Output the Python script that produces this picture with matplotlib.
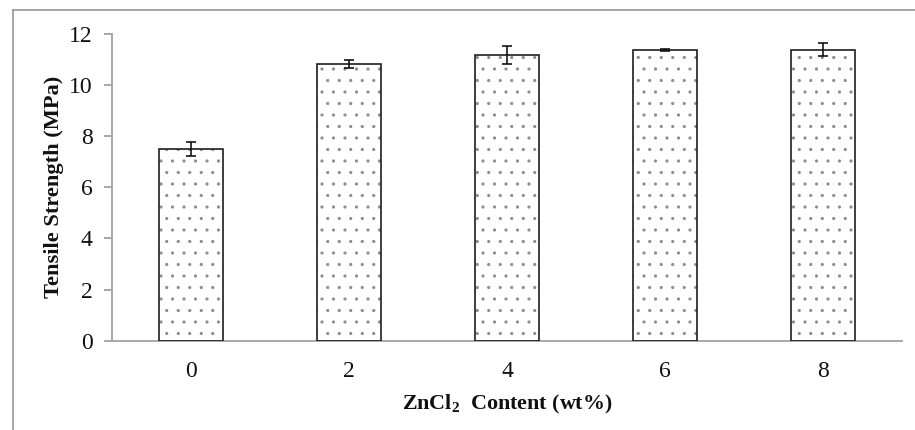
import matplotlib
matplotlib.use("Agg")
import matplotlib.pyplot as plt
from matplotlib.lines import Line2D

# Tensile strength vs. ZnCl2 loading
zncl2_content = ["0", "2", "4", "6", "8"]
tensile_strength = [7.5, 10.83, 11.18, 11.39, 11.39]
strength_error = [0.28, 0.17, 0.34, 0.04, 0.26]
y_ticks = [0, 2, 4, 6, 8, 10, 12]

DPI = 138
W, H = 915, 430

plt.rcParams["font.family"] = ["Liberation Serif", "DejaVu Serif"]
plt.rcParams["mathtext.fontset"] = "custom"
plt.rcParams["mathtext.rm"] = "Liberation Serif"
plt.rcParams["mathtext.bf"] = "Liberation Serif:bold"
plt.rcParams["hatch.linewidth"] = 0.45

fig = plt.figure(figsize=(W / DPI, H / DPI), dpi=DPI)
ax = fig.add_axes([112 / W, 1 - 340.7 / H, (902 - 112) / W, (340.7 - 34) / H])

x = list(range(len(zncl2_content)))
bar_w = 0.41

# dotted fill
ax.bar(x, tensile_strength, width=bar_w, color="white", edgecolor="#8c8c8c",
       hatch="..", linewidth=0, zorder=2)
# black outline
ax.bar(x, tensile_strength, width=bar_w, color="none", edgecolor="#1a1a1a",
       linewidth=0.85, zorder=3)
ax.errorbar(x, tensile_strength, yerr=strength_error, fmt="none",
            ecolor="#111111", elinewidth=0.85, capsize=2.8, capthick=0.85, zorder=4)

ax.set_xlim(-0.5, len(x) - 0.5)
ax.set_ylim(0, 12)
ax.set_yticks(y_ticks)
ax.set_xticks(x)
ax.set_xticklabels(zncl2_content)

spine_c = "#a6a6a6"
for s in ["top", "right"]:
    ax.spines[s].set_visible(False)
for s in ["left", "bottom"]:
    ax.spines[s].set_color(spine_c)
    ax.spines[s].set_linewidth(1.0)

ax.tick_params(axis="y", direction="out", length=4.2, width=1.0, color=spine_c,
               pad=6.0, labelsize=12.3, labelcolor="#111111")
ax.tick_params(axis="x", length=0, pad=10.5, labelsize=12.3, labelcolor="#111111")

ax.set_ylabel("Tensile Strength (MPa)", fontsize=11.7, fontweight="bold",
              labelpad=2.5, color="#111111")
ax.set_xlabel(r"ZnCl$_{\mathbf{2}}$  Content (wt%)", fontsize=11.5,
              fontweight="bold", labelpad=6, color="#111111")

# chart frame (top and left edges)
frame_c = "#9a9a9a"
fig.add_artist(Line2D([13 / W, 1.0], [1 - 10 / H, 1 - 10 / H],
                      transform=fig.transFigure, color=frame_c, linewidth=0.9))
fig.add_artist(Line2D([13 / W, 13 / W], [0.0, 1 - 10 / H],
                      transform=fig.transFigure, color=frame_c, linewidth=0.9))

fig.savefig("out.png", dpi=DPI, facecolor="white")
